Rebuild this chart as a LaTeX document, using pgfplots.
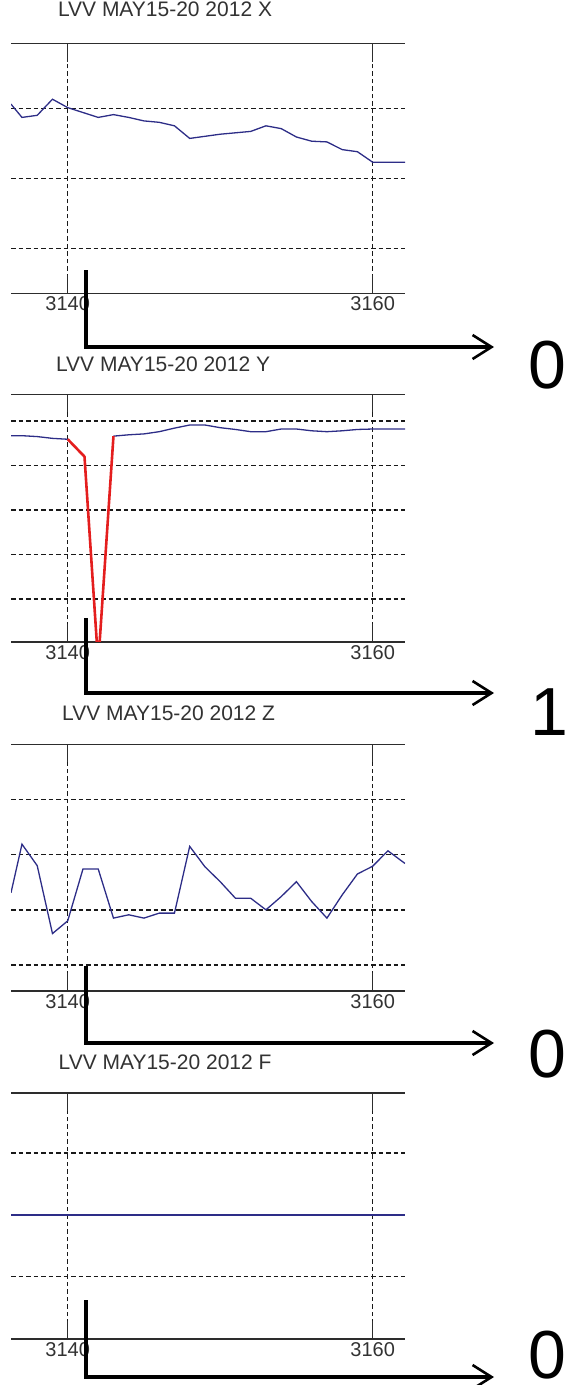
\documentclass[border=0pt]{standalone}
\usepackage{pgfplots}
\pgfplotsset{compat=1.18}
\usepackage{pgfplotstable}
\usepackage{fontspec}
\setmainfont{Liberation Sans}
\usetikzlibrary{arrows.meta}

\definecolor{navy}{RGB}{45,45,135}
\definecolor{spike}{RGB}{228,30,30}
\definecolor{gridc}{RGB}{25,25,25}
\definecolor{axc}{RGB}{45,45,45}
\definecolor{txtgray}{RGB}{50,50,50}

\pgfplotstableread{
x y
3136.28 2.06
3137 1.87
3138 1.90
3139 2.13
3140 2.01
3141 1.94
3142 1.87
3143 1.91
3144 1.87
3145 1.82
3146 1.80
3147 1.75
3148 1.57
3149 1.60
3150 1.63
3151 1.65
3152 1.67
3153 1.75
3154 1.71
3155 1.59
3156 1.53
3157 1.52
3158 1.41
3159 1.38
3160 1.23
3161 1.23
3162.12 1.23
}\dataX

\pgfplotstableread{
x y
3136.28 3.67
3137 3.67
3138 3.65
3139 3.61
3140 3.59
}\dataYa

\pgfplotstableread{
x y
3140 3.59
3141.1 3.20
3142 -1.45
3143 3.66
}\dataYspike

\pgfplotstableread{
x y
3143 3.66
3144 3.69
3145 3.71
3146 3.76
3147 3.84
3148 3.91
3149 3.91
3150 3.85
3151 3.81
3152 3.76
3153 3.76
3154 3.82
3155 3.82
3156 3.78
3157 3.76
3158 3.78
3159 3.81
3160 3.82
3161 3.82
3162.12 3.82
}\dataYb

\pgfplotstableread{
x y
3136.28 1.31
3137 2.19
3138 1.80
3139 0.57
3140 0.80
3141 1.74
3142 1.74
3143 0.85
3144 0.91
3145 0.85
3146 0.94
3147 0.94
3148 2.15
3149 1.78
3150 1.51
3151 1.21
3152 1.21
3153 1.00
3154 1.24
3155 1.51
3156 1.15
3157 0.85
3158 1.27
3159 1.65
3160 1.79
3161 2.07
3162.12 1.84
}\dataZ

\pgfplotstableread{
x y
3136.28 2
3162.12 2
}\dataF

\pgfplotsset{
  panel/.style={
    scale only axis,
    width=394pt,
    xmin=3136.28, xmax=3162.12,
    xtick={3140,3160},
    xticklabel style={font=\fontsize{20}{20}\selectfont, text=txtgray},
    /pgf/number format/1000 sep={},
    /pgf/number format/assume math mode=true,
    tick align=inside,
    major tick length=18pt,
    xtick pos=both,
    xticklabel pos=lower,
    yticklabels={},
    ytick style={draw=none},
    x tick style={line width=1.4pt, color=axc},
    grid=major,
    major grid style={dash pattern=on 4.5pt off 3pt, line width=1.4pt, color=gridc},
    separate axis lines,
    x axis line style={line width=1.6pt, color=axc},
    y axis line style={draw=none},
    title style={font=\fontsize{21}{21}\selectfont, text=txtgray, anchor=base},
  },
}

\begin{document}
\begin{tikzpicture}
\useasboundingbox (0pt,0pt) rectangle (568pt,-1385pt);

% Panel X
\begin{axis}[panel, height=249.8pt, at={(11pt,-293.3pt)}, anchor=south west,
  ymin=-0.643, ymax=2.926, ytick={0,1,2},
  title={LVV MAY15-20 2012 X},
  title style={at={(0.391,1)}, yshift=20.8pt}]
\addplot[navy, line width=1.3pt] table[x=x,y=y] {\dataX};
\end{axis}

% Panel Y
\begin{axis}[panel, height=247.4pt, at={(11pt,-641.7pt)}, anchor=south west,
  ymin=-0.96, ymax=4.6, ytick={0,1,2,3,4},
  title={LVV MAY15-20 2012 Y},
  title style={at={(0.386,1)}, yshift=17pt}]
\addplot[navy, line width=1.3pt] table[x=x,y=y] {\dataYa};
\addplot[navy, line width=1.3pt] table[x=x,y=y] {\dataYb};
\addplot[spike, line width=2.6pt, line join=round] table[x=x,y=y] {\dataYspike};
\end{axis}

% Panel Z
\begin{axis}[panel, height=246.4pt, at={(11pt,-990.7pt)}, anchor=south west,
  ymin=-0.466, ymax=4, ytick={0,1,2,3,4},
  title={LVV MAY15-20 2012 Z},
  title style={at={(0.40,1)}, yshift=17.6pt}]
\addplot[navy, line width=1.3pt] table[x=x,y=y] {\dataZ};
\end{axis}

% Panel F
\begin{axis}[panel, height=246pt, at={(11pt,-1338.7pt)}, anchor=south west,
  ymin=0, ymax=3.97, ytick={0,1,2,3},
  title={LVV MAY15-20 2012 F},
  title style={at={(0.391,1)}, yshift=17.7pt}]
\addplot[navy, line width=1.5pt] table[x=x,y=y] {\dataF};
\end{axis}

% Annotation arrows and values
\tikzset{ann/.style={line width=3.8pt, black, line join=miter,
  -{Straight Barb[length=19pt, width=24pt, line width=2.6pt]}}}
\draw[ann] (86pt,-270pt) -- (86pt,-347pt) -- (494pt,-347pt);
\draw[ann] (86pt,-618pt) -- (86pt,-693pt) -- (494pt,-693pt);
\draw[ann] (86pt,-966pt) -- (86pt,-1043pt) -- (494pt,-1043pt);
\draw[ann] (86pt,-1300pt) -- (86pt,-1377pt) -- (494pt,-1377pt);

\tikzset{big/.style={font=\fontsize{68}{68}\selectfont, anchor=base, inner sep=0pt}}
\node[big] at (547pt,-388pt) {0};
\node[big] at (549pt,-735pt) {1};
\node[big] at (547pt,-1077pt) {0};
\node[big] at (547pt,-1378pt) {0};
\end{tikzpicture}
\end{document}
